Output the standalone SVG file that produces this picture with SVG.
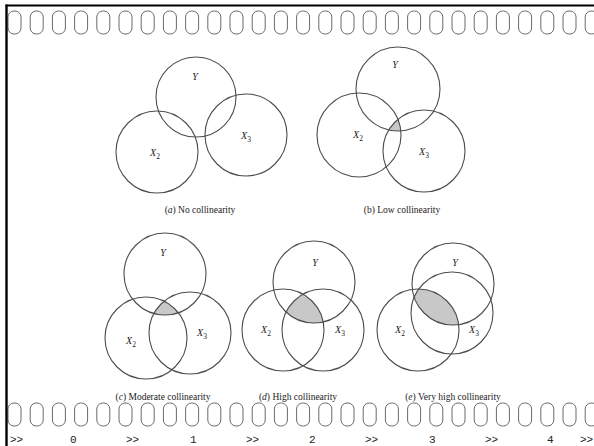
<svg xmlns="http://www.w3.org/2000/svg" xmlns:xlink="http://www.w3.org/1999/xlink" width="594" height="446" viewBox="0 0 594 446">
<style>
.c{fill:none;stroke:#4d4d4d;stroke-width:1.1}
.sh{fill:#c8c8c8;stroke:none}
.lb{font-family:"Liberation Serif",serif;font-style:italic;font-size:10px;fill:#222;text-anchor:middle}
.sub{font-size:7.5px;font-style:normal}
.cap{font-family:"Liberation Serif",serif;font-size:9.5px;fill:#222;text-anchor:middle}
.it{font-style:italic}
.hole{fill:none;stroke:#6a6a6a;stroke-width:1}
.num{font-family:"Liberation Mono",monospace;font-size:11px;fill:#222}
</style>
<defs>
<rect id="hole" x="0" y="0" width="13" height="23" rx="6" ry="6" class="hole"/>
<clipPath id="bY"><circle cx="398" cy="89" r="42"/></clipPath>
<clipPath id="bX2"><circle cx="359" cy="135" r="42"/></clipPath>
<clipPath id="cY"><circle cx="165" cy="274" r="41"/></clipPath>
<clipPath id="cX2"><circle cx="146" cy="338" r="41"/></clipPath>
<clipPath id="dY"><circle cx="314" cy="282" r="41"/></clipPath>
<clipPath id="dX2"><circle cx="283" cy="330" r="41"/></clipPath>
<clipPath id="eY"><circle cx="453" cy="284" r="41"/></clipPath>
<clipPath id="eX2"><circle cx="418" cy="330" r="41"/></clipPath>
</defs>
<rect width="594" height="446" fill="#fff"/>

<g id="film">
<g id="top-holes" transform="translate(0,11)">
<use xlink:href="#hole" x="8"/><use xlink:href="#hole" x="30.2"/><use xlink:href="#hole" x="52.4"/><use xlink:href="#hole" x="74.6"/><use xlink:href="#hole" x="96.8"/><use xlink:href="#hole" x="119"/><use xlink:href="#hole" x="141.2"/><use xlink:href="#hole" x="163.4"/><use xlink:href="#hole" x="185.6"/><use xlink:href="#hole" x="207.8"/><use xlink:href="#hole" x="230"/><use xlink:href="#hole" x="252.2"/><use xlink:href="#hole" x="274.4"/><use xlink:href="#hole" x="296.6"/><use xlink:href="#hole" x="318.8"/><use xlink:href="#hole" x="341"/><use xlink:href="#hole" x="363.2"/><use xlink:href="#hole" x="385.4"/><use xlink:href="#hole" x="407.6"/><use xlink:href="#hole" x="429.8"/><use xlink:href="#hole" x="452"/><use xlink:href="#hole" x="474.2"/><use xlink:href="#hole" x="496.4"/><use xlink:href="#hole" x="518.6"/><use xlink:href="#hole" x="540.8"/><use xlink:href="#hole" x="563"/><use xlink:href="#hole" x="585.2"/>
</g>
<g id="bottom-holes" transform="translate(0,403)">
<use xlink:href="#hole" x="8"/><use xlink:href="#hole" x="30.2"/><use xlink:href="#hole" x="52.4"/><use xlink:href="#hole" x="74.6"/><use xlink:href="#hole" x="96.8"/><use xlink:href="#hole" x="119"/><use xlink:href="#hole" x="141.2"/><use xlink:href="#hole" x="163.4"/><use xlink:href="#hole" x="185.6"/><use xlink:href="#hole" x="207.8"/><use xlink:href="#hole" x="230"/><use xlink:href="#hole" x="252.2"/><use xlink:href="#hole" x="274.4"/><use xlink:href="#hole" x="296.6"/><use xlink:href="#hole" x="318.8"/><use xlink:href="#hole" x="341"/><use xlink:href="#hole" x="363.2"/><use xlink:href="#hole" x="385.4"/><use xlink:href="#hole" x="407.6"/><use xlink:href="#hole" x="429.8"/><use xlink:href="#hole" x="452"/><use xlink:href="#hole" x="474.2"/><use xlink:href="#hole" x="496.4"/><use xlink:href="#hole" x="518.6"/><use xlink:href="#hole" x="540.8"/><use xlink:href="#hole" x="563"/><use xlink:href="#hole" x="585.2"/>
</g>
<line x1="5.5" y1="5.5" x2="594" y2="5.5" stroke="#000" stroke-width="2.2"/>
<line x1="6.5" y1="4.5" x2="6.5" y2="446" stroke="#000" stroke-width="2.4"/>
<g id="ruler" class="num">
<text x="10" y="443">&gt;&gt;</text>
<text x="70" y="443">0</text>
<text x="126" y="443">&gt;&gt;</text>
<text x="190" y="443">1</text>
<text x="246" y="443">&gt;&gt;</text>
<text x="309" y="443">2</text>
<text x="365" y="443">&gt;&gt;</text>
<text x="429" y="443">3</text>
<text x="485" y="443">&gt;&gt;</text>
<text x="547" y="443">4</text>
<text x="580" y="443">&gt;&gt;</text>
</g>
</g>

<g id="connectors"></g>

<g id="diagram-a">
<g id="a-Y"><circle class="c" cx="196" cy="97" r="40"/><text class="lb" x="195" y="80">Y</text></g>
<g id="a-X2"><circle class="c" cx="157" cy="152" r="41"/><text class="lb" x="155" y="156">X<tspan class="sub" dy="2.5">2</tspan></text></g>
<g id="a-X3"><circle class="c" cx="246" cy="135" r="41"/><text class="lb" x="246" y="139">X<tspan class="sub" dy="2.5">3</tspan></text></g>
<text class="cap" x="200" y="213">(<tspan class="it">a</tspan>) No collinearity</text>
</g>

<g id="diagram-b">
<g clip-path="url(#bY)"><g clip-path="url(#bX2)"><circle class="sh" cx="424" cy="151" r="41"/></g></g>
<g id="b-Y"><circle class="c" cx="398" cy="89" r="42"/><text class="lb" x="395" y="68">Y</text></g>
<g id="b-X2"><circle class="c" cx="359" cy="135" r="42"/><text class="lb" x="358" y="138">X<tspan class="sub" dy="2.5">2</tspan></text></g>
<g id="b-X3"><circle class="c" cx="424" cy="151" r="41"/><text class="lb" x="424" y="155">X<tspan class="sub" dy="2.5">3</tspan></text></g>
<text class="cap" x="402" y="213">(b) Low collinearity</text>
</g>

<g id="diagram-c">
<g clip-path="url(#cY)"><g clip-path="url(#cX2)"><circle class="sh" cx="190" cy="333" r="41"/></g></g>
<g id="c-Y"><circle class="c" cx="165" cy="274" r="41"/><text class="lb" x="163" y="256">Y</text></g>
<g id="c-X2"><circle class="c" cx="146" cy="338" r="41"/><text class="lb" x="131" y="344">X<tspan class="sub" dy="2.5">2</tspan></text></g>
<g id="c-X3"><circle class="c" cx="190" cy="333" r="41"/><text class="lb" x="202" y="336">X<tspan class="sub" dy="2.5">3</tspan></text></g>
<text class="cap" x="163" y="400">(<tspan class="it">c</tspan>) Moderate collinearity</text>
</g>

<g id="diagram-d">
<g clip-path="url(#dY)"><g clip-path="url(#dX2)"><circle class="sh" cx="323" cy="330" r="41"/></g></g>
<g id="d-Y"><circle class="c" cx="314" cy="282" r="41"/><text class="lb" x="315" y="266">Y</text></g>
<g id="d-X2"><circle class="c" cx="283" cy="330" r="41"/><text class="lb" x="266" y="333">X<tspan class="sub" dy="2.5">2</tspan></text></g>
<g id="d-X3"><circle class="c" cx="323" cy="330" r="41"/><text class="lb" x="340" y="333">X<tspan class="sub" dy="2.5">3</tspan></text></g>
<text class="cap" x="298" y="400">(<tspan class="it">d</tspan>) High collinearity</text>
</g>

<g id="diagram-e">
<g clip-path="url(#eY)"><g clip-path="url(#eX2)"><circle class="sh" cx="452" cy="313" r="41"/></g></g>
<g id="e-Y"><circle class="c" cx="453" cy="284" r="41"/><text class="lb" x="455" y="266">Y</text></g>
<g id="e-X2"><circle class="c" cx="418" cy="330" r="41"/><text class="lb" x="400" y="333">X<tspan class="sub" dy="2.5">2</tspan></text></g>
<g id="e-X3"><circle class="c" cx="452" cy="313" r="41"/><text class="lb" x="474" y="333">X<tspan class="sub" dy="2.5">3</tspan></text></g>
<text class="cap" x="453" y="400">(<tspan class="it">e</tspan>) Very high collinearity</text>
</g>
</svg>
